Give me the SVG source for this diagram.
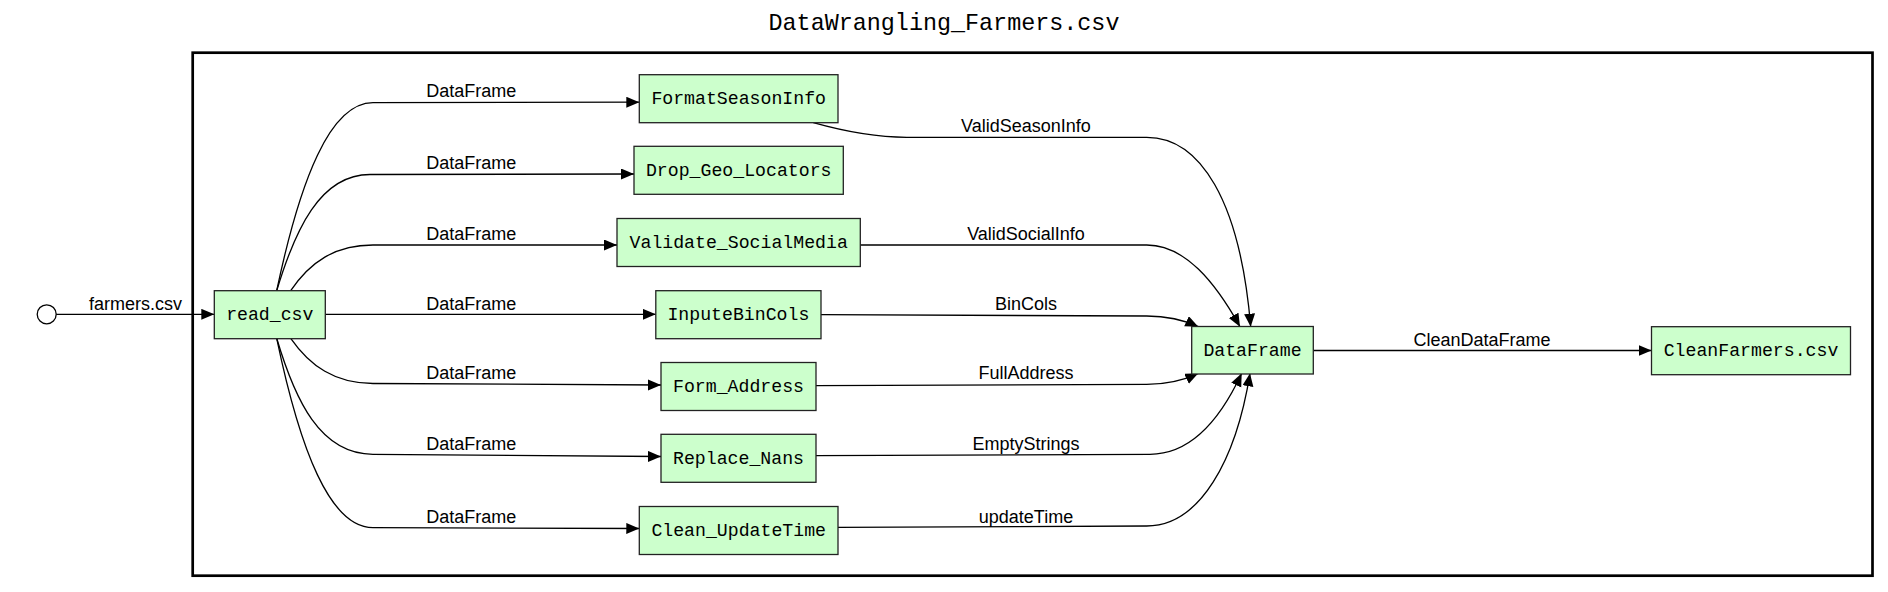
<svg xmlns="http://www.w3.org/2000/svg" width="1888" height="592" viewBox="0 0 1888 592">
<style>
.node rect{fill:#ccffcc;stroke:#222;stroke-width:1.3}
.node text{font-family:"Liberation Mono",monospace;font-size:18.2px;text-anchor:middle;fill:#000}
.edges path{fill:none;stroke:#000;stroke-width:1.3}
.lbl{font-family:"Liberation Sans",Arial,sans-serif;font-size:18px;text-anchor:middle;fill:#000}
.title{font-family:"Liberation Mono",monospace;font-size:23.4px;text-anchor:middle;fill:#000}
</style>
<defs>
<marker id="arr" markerUnits="userSpaceOnUse" markerWidth="14" markerHeight="12" refX="13" refY="5.5" orient="auto" viewBox="0 0 14 12">
<path d="M0,0 L13,5.5 L0,11 z" fill="#000"/>
</marker>
</defs>
<rect width="1888" height="592" fill="#fff"/>
<text class="title" x="944" y="30">DataWrangling_Farmers.csv</text>
<rect id="cluster" x="192.7" y="52.7" width="1679.8" height="523" fill="none" stroke="#000" stroke-width="2.7"/>

<g id="start"><circle cx="46.7" cy="314.3" r="9.5" fill="#fff" stroke="#000" stroke-width="1.3"/></g>

<g class="edges" id="connectors">
<path d="M56.2,314.3 L214.3,314.3" marker-end="url(#arr)"/>
<path d="M276.7,290.7 C300,180 330,102.7 373,102.7 L639.3,102.2" marker-end="url(#arr)"/>
<path d="M276.7,290.7 C295,230 320,174.5 370,174.5 L634,174" marker-end="url(#arr)"/>
<path d="M290.7,290.7 C310,262 335,245 373,245 L617,245" marker-end="url(#arr)"/>
<path d="M325.3,314.3 L655.8,314.3" marker-end="url(#arr)"/>
<path d="M290.7,338.3 C310,366 335,383.5 373,383.5 L661,385" marker-end="url(#arr)"/>
<path d="M276.7,338.3 C295,400 320,454.3 373,454.3 L661,456.5" marker-end="url(#arr)"/>
<path d="M276.7,338.3 C300,450 330,527.7 373,527.7 L639.3,528.5" marker-end="url(#arr)"/>
<path d="M813.3,122.7 C850,133 880,137.3 906.7,137.3 L1146.7,137.3 C1200,137.3 1240,200 1250.7,326.7" marker-end="url(#arr)"/>
<path d="M860.3,245 L1146.7,245 C1185,245 1215,282 1240,326.7" marker-end="url(#arr)"/>
<path d="M821,314.7 L1146.7,316 C1168,316 1184,320 1198.3,326.7" marker-end="url(#arr)"/>
<path d="M816,385.7 L1146.7,384.3 C1168,384.3 1184,380 1198.3,373.3" marker-end="url(#arr)"/>
<path d="M816,455.7 L1150,454.3 C1190,454.3 1220,420 1241.7,373.3" marker-end="url(#arr)"/>
<path d="M838,527.3 L1146.7,526 C1200,526 1236,460 1250,373.3" marker-end="url(#arr)"/>
<path d="M1313.3,350.5 L1651.5,350.5" marker-end="url(#arr)"/>
</g>

<g id="labels">
<text class="lbl" x="135.5" y="309.5">farmers.csv</text>
<text class="lbl" x="471.3" y="97.3">DataFrame</text>
<text class="lbl" x="471.3" y="169.3">DataFrame</text>
<text class="lbl" x="471.3" y="239.8">DataFrame</text>
<text class="lbl" x="471.3" y="310">DataFrame</text>
<text class="lbl" x="471.3" y="379.3">DataFrame</text>
<text class="lbl" x="471.3" y="449.5">DataFrame</text>
<text class="lbl" x="471.3" y="522.7">DataFrame</text>
<text class="lbl" x="1026" y="131.7">ValidSeasonInfo</text>
<text class="lbl" x="1026" y="239.5">ValidSocialInfo</text>
<text class="lbl" x="1026" y="310">BinCols</text>
<text class="lbl" x="1026" y="379.3">FullAddress</text>
<text class="lbl" x="1026" y="449.5">EmptyStrings</text>
<text class="lbl" x="1026" y="522.7">updateTime</text>
<text class="lbl" x="1482" y="346">CleanDataFrame</text>
</g>

<g class="node" id="read_csv"><rect x="214.3" y="290.7" width="111" height="48"/><text x="269.8" y="320.2">read_csv</text></g>
<g class="node" id="FormatSeasonInfo"><rect x="639.3" y="74.7" width="198.7" height="48"/><text x="738.7" y="104.2">FormatSeasonInfo</text></g>
<g class="node" id="Drop_Geo_Locators"><rect x="634" y="146.3" width="209.3" height="48"/><text x="738.7" y="175.8">Drop_Geo_Locators</text></g>
<g class="node" id="Validate_SocialMedia"><rect x="617" y="218.5" width="243.3" height="48"/><text x="738.7" y="248">Validate_SocialMedia</text></g>
<g class="node" id="InputeBinCols"><rect x="655.8" y="290.7" width="165.2" height="48"/><text x="738.4" y="320.2">InputeBinCols</text></g>
<g class="node" id="Form_Address"><rect x="661" y="362.5" width="155" height="48"/><text x="738.5" y="392">Form_Address</text></g>
<g class="node" id="Replace_Nans"><rect x="661" y="434.3" width="155" height="48"/><text x="738.5" y="463.8">Replace_Nans</text></g>
<g class="node" id="Clean_UpdateTime"><rect x="639.3" y="506.5" width="198.7" height="48"/><text x="738.7" y="536">Clean_UpdateTime</text></g>
<g class="node" id="DataFrame"><rect x="1191.7" y="326.5" width="121.6" height="47.5"/><text x="1252.5" y="356">DataFrame</text></g>
<g class="node" id="CleanFarmers"><rect x="1651.5" y="326.7" width="199" height="48"/><text x="1751" y="356.2">CleanFarmers.csv</text></g>
</svg>
